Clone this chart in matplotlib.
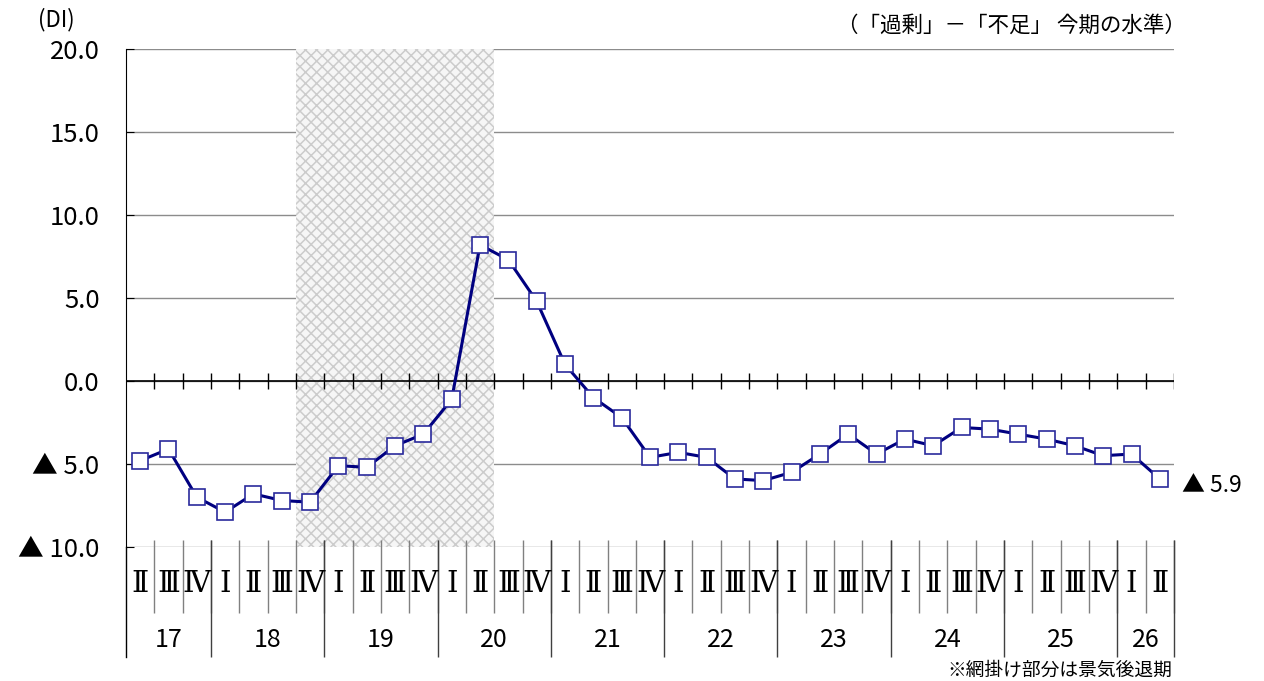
import matplotlib
matplotlib.use('Agg')
import matplotlib.pyplot as plt
from matplotlib.patches import Rectangle
import numpy as np

plt.rcParams['font.family'] = ['Noto Sans CJK JP', 'DejaVu Sans']
plt.rcParams['hatch.linewidth'] = 1.1

# data
years = ['17', '18', '19', '20', '21', '22', '23', '24', '25', '26']
quarters_per_year = [3, 4, 4, 4, 4, 4, 4, 4, 4, 2]
quarter_labels = ['Ⅱ', 'Ⅲ', 'Ⅳ'] + ['Ⅰ', 'Ⅱ', 'Ⅲ', 'Ⅳ'] * 8 + ['Ⅰ', 'Ⅱ']
values = [-4.8, -4.1, -7.0,
          -7.9, -6.8, -7.2, -7.3,
          -5.1, -5.2, -3.9, -3.2,
          -1.1, 8.2, 7.3, 4.8,
          1.0, -1.0, -2.2, -4.6,
          -4.3, -4.6, -5.9, -6.0,
          -5.5, -4.4, -3.2, -4.4,
          -3.5, -3.9, -2.8, -2.9,
          -3.2, -3.5, -3.9, -4.5,
          -4.4, -5.9]
recession_start, recession_end = 6, 13   # 18 IV .. 20 II
yticks = [20, 15, 10, 5, 0, -5, -10]
ytick_labels = ['20.0', '15.0', '10.0', '5.0', '0.0', '▲ 5.0', '▲ 10.0']

n = len(values)
fig = plt.figure(figsize=(12.64, 6.81), dpi=100)
ax = fig.add_axes([126 / 1264, 1 - 547 / 681, (1174 - 126) / 1264, (547 - 49) / 681])

x = np.arange(n) + 0.5
ax.plot(x, values, color='#000080', lw=2.2, marker='s', ms=11.5,
        mfc='white', mec='#2a2a9c', mew=1.2, zorder=5)

ax.set_xlim(0, n)
ax.set_ylim(-10, 20)
ax.set_yticks(yticks)
ax.set_yticklabels(ytick_labels, fontsize=18.5)
ax.tick_params(axis='y', direction='in', length=6, pad=19)
ax.set_xticks([])
for s in ['top', 'right', 'bottom']:
    ax.spines[s].set_visible(False)
ax.grid(axis='y', color='#8c8c8c', lw=1)

# 景気後退期の網掛け
ax.add_patch(Rectangle((recession_start, -10), recession_end - recession_start, 30,
                       facecolor='#f6f6f6', edgecolor='#cccccc', hatch='xxx',
                       lw=0, zorder=2))

# 0 の横軸と目盛
ax.axhline(0, color='black', lw=1.2, zorder=4)
ax.vlines(np.arange(1, n + 1), -0.5, 0.5, colors='black', lw=1, zorder=4)

# 下の表
ax.plot([0, 0], [-10, -16.6], color='black', lw=1, clip_on=False)
ax.vlines(np.arange(1, n + 1), -9.6, -14.0, colors='#808080', lw=1, clip_on=False)
bounds = np.cumsum(quarters_per_year)
ax.vlines(bounds, -9.6, -16.6, colors='#404040', lw=1, clip_on=False)

for i, q in enumerate(quarter_labels):
    ax.text(i + 0.5, -12.2, q, ha='center', va='center', fontsize=21,
            family=['DejaVu Serif', 'Noto Sans CJK JP'], clip_on=False)

starts = np.concatenate([[0], bounds[:-1]])
for y, s, e in zip(years, starts, bounds):
    ax.text((s + e) / 2, -15.6, y, ha='center', va='center', fontsize=18, clip_on=False)

ax.text(n + 0.3, values[-1] - 0.4, f'▲ {abs(values[-1]):.1f}', ha='left', va='center',
        fontsize=16.5, clip_on=False)

fig.text(38 / 1264, 1 - 20 / 681, '(DI)', fontsize=16, ha='left', va='center')
fig.text(1186 / 1264, 1 - 26 / 681, '（「過剰」－「不足」 今期の水準）', fontsize=15.5,
         ha='right', va='center')
fig.text(1172 / 1264, 1 - 670 / 681, '※網掛け部分は景気後退期', fontsize=13.5,
         ha='right', va='center')

fig.savefig('out.png', dpi=100)
